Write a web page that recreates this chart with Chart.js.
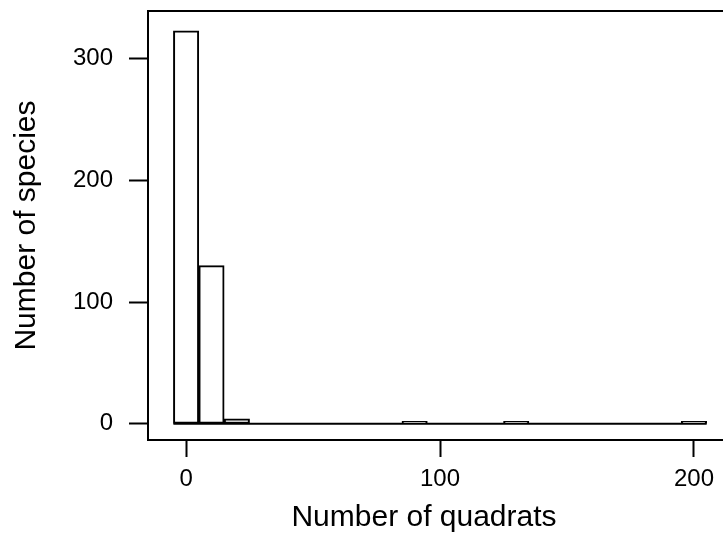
<!DOCTYPE html>
<html>
<head>
<meta charset="utf-8">
<script src="https://cdn.jsdelivr.net/npm/chart.js@4.4.0/dist/chart.umd.min.js"></script>
<style>
  html, body { margin: 0; padding: 0; background: #fff; overflow: hidden; width: 723px; height: 533px; }
  canvas { display: block; }
</style>
</head>
<body>
<!-- plot box runs past the window's right edge, as in the original figure -->
<canvas id="hist" width="740" height="533"></canvas>
<script>
// histogram bins (mid points, width 10) and counts
const binMids = [0, 10, 20, 30, 40, 50, 60, 70, 80, 90, 100, 110, 120, 130, 140, 150, 160, 170, 180, 190, 200];
const speciesCounts = [323, 130, 4, 0, 0, 0, 0, 0, 0, 2, 0, 0, 0, 2, 0, 0, 0, 0, 0, 0, 2];
const binEdges = [-5, 205];
const xTicks = [0, 100, 200];
const yTicks = [0, 100, 200, 300];
const xTitle = "Number of quadrats";
const yTitle = "Number of species";

const FONT = '"Liberation Sans", Arial, sans-serif';

// box top line + axis titles (R style)
const framePlugin = {
  id: "frame",
  afterDraw(chart) {
    const { ctx, chartArea } = chart;
    ctx.save();
    ctx.strokeStyle = "#000";
    ctx.lineWidth = 2;
    ctx.beginPath();
    ctx.moveTo(chartArea.left - 1, chartArea.top);
    ctx.lineTo(chartArea.right, chartArea.top);
    ctx.stroke();

    ctx.fillStyle = "#000";
    ctx.font = "30px " + FONT;
    ctx.textAlign = "center";
    ctx.textBaseline = "alphabetic";
    ctx.fillText(xTitle, 424, 526);
    ctx.translate(35, (chartArea.top + chartArea.bottom) / 2);
    ctx.rotate(-Math.PI / 2);
    ctx.fillText(yTitle, 0, 0);
    ctx.restore();
  }
};

let barData = binMids.map((m, i) => ({ x: m, y: speciesCounts[i] }));
let baseData = binEdges.map(e => ({ x: e, y: 0 }));

new Chart(document.getElementById("hist"), {
  type: "bar",
  data: {
    datasets: [
      {
        type: "line",
        data: baseData,
        borderColor: "#000",
        borderWidth: 2,
        pointRadius: 0,
        clip: false
      },
      {
        data: barData,
        backgroundColor: "#fff",
        borderColor: "#000",
        borderWidth: 2,
        borderSkipped: false,
        barPercentage: 1,
        categoryPercentage: 1,
        clip: false
      }
    ]
  },
  options: {
    responsive: false,
    animation: false,
    devicePixelRatio: 1,
    layout: { padding: { top: 11, left: 0, right: 12, bottom: 0 } },
    plugins: { legend: { display: false }, tooltip: { enabled: false } },
    scales: {
      x: {
        type: "linear",
        min: -15,
        max: 213.4,
        offset: false,
        afterBuildTicks: s => { s.ticks = xTicks.map(v => ({ value: v })); },
        afterFit: s => { s.height = 93; s.paddingLeft = 0; s.paddingRight = 0; },
        grid: { offset: false, drawOnChartArea: false, drawTicks: true, tickLength: 17, tickColor: "#000", tickWidth: 2 },
        border: { display: true, color: "#000", width: 2 },
        ticks: { color: "#000", font: { family: FONT, size: 24 }, padding: 8, maxRotation: 0 }
      },
      y: {
        min: -13.3,
        max: 339.3,
        afterBuildTicks: s => { s.ticks = yTicks.map(v => ({ value: v })); },
        afterFit: s => { s.width = 148; s.paddingTop = 0; s.paddingBottom = 0; },
        grid: { drawOnChartArea: false, drawTicks: true, tickLength: 19, tickColor: "#000", tickWidth: 2 },
        border: { display: true, color: "#000", width: 2 },
        ticks: { color: "#000", font: { family: FONT, size: 24 }, padding: 16 }
      }
    }
  },
  plugins: [framePlugin]
});
</script>
</body>
</html>
